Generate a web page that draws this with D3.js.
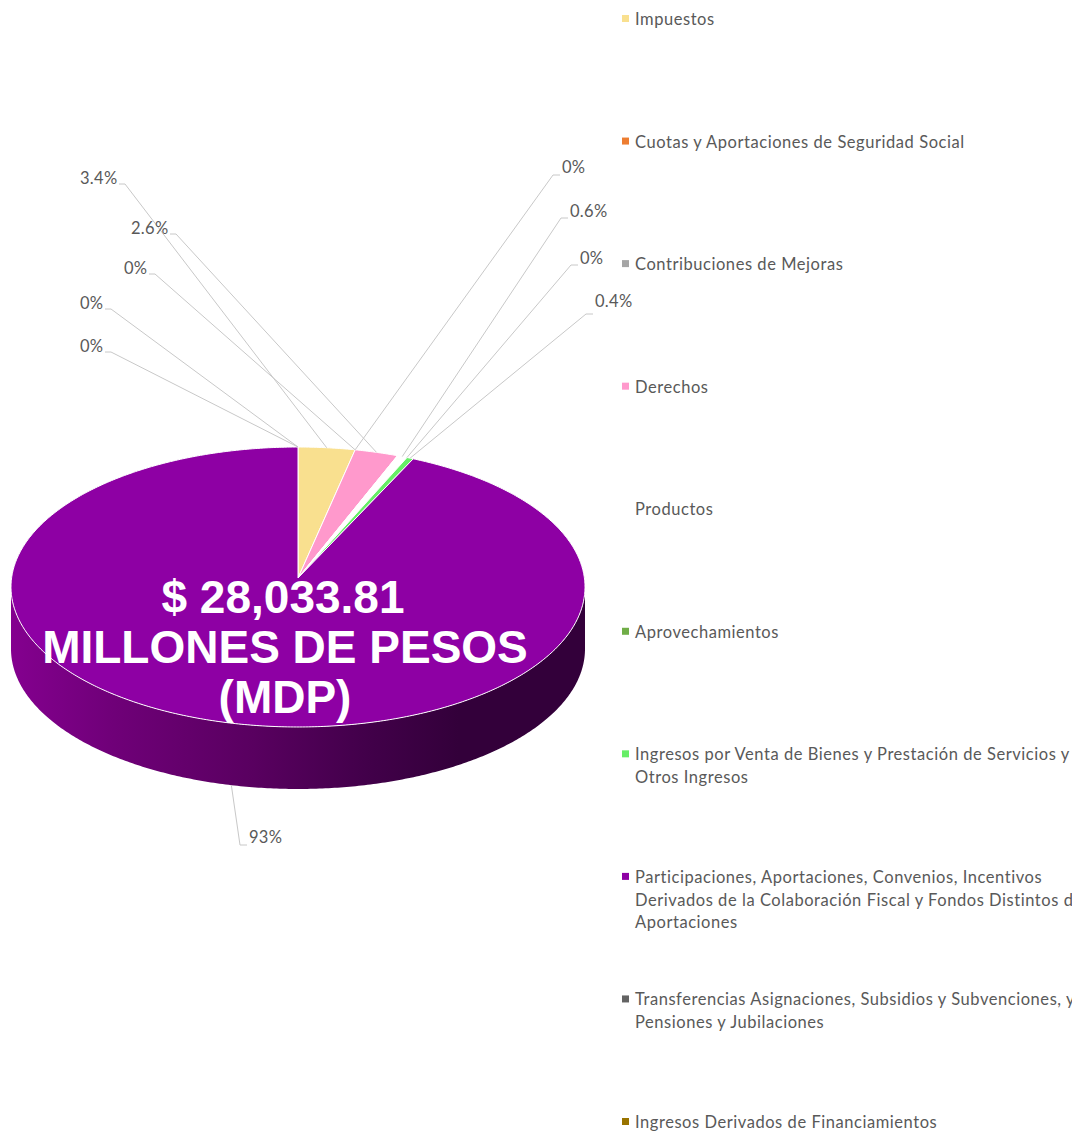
<!DOCTYPE html>
<html lang="es">
<head>
<meta charset="utf-8">
<script src="https://cdn.jsdelivr.net/npm/d3@7"></script>
<style>
  html, body { margin: 0; background: #fff; }
  svg { display: block; }
  .legend-text { font-family: Lato, sans-serif; font-size: 16.5px; fill: #595959; letter-spacing: 0.55px; }
  .pct-label { font-family: Lato, sans-serif; font-size: 16.5px; fill: #595959; letter-spacing: 0.3px; }
  .leader { fill: none; stroke: #c8c8c8; stroke-width: 1; }
  .total { font-family: "Liberation Sans", Arial, sans-serif; font-weight: 700; font-size: 46px; fill: #fff; text-anchor: middle; }
</style>
</head>
<body>
<svg id="chart" width="1072" height="1133"></svg>
<script>
// ── Data ─────────────────────────────────────────────────────────────────────
const categories = [
	'Impuestos',
	'Cuotas y Aportaciones de Seguridad Social',
	'Contribuciones de Mejoras',
	'Derechos',
	'Productos',
	'Aprovechamientos',
	'Ingresos por Venta de Bienes y Prestación de Servicios y\nOtros Ingresos',
	'Participaciones, Aportaciones, Convenios, Incentivos\nDerivados de la Colaboración Fiscal y Fondos Distintos de\nAportaciones',
	'Transferencias Asignaciones, Subsidios y Subvenciones, y\nPensiones y Jubilaciones',
	'Ingresos Derivados de Financiamientos'
];
const values = [3.4, 0, 0, 2.6, 0.6, 0, 0.4, 93, 0, 0];
const valueLabels = ['3.4%', '0%', '0%', '2.6%', '0.6%', '0%', '0.4%', '93%', '0%', '0%'];
const colors = ['#f9e08f', '#ed7d31', '#a5a5a5', '#ff99cc', '#ffffff', '#70ad47', '#66ee66', '#8e00a4', '#636363', '#997300'];
const totalLines = ['$ 28,033.81', 'MILLONES DE PESOS', '(MDP)'];

// ── Layout ───────────────────────────────────────────────────────────────────
// label box for each slice: text start x, baseline y, and which way the leader leaves
const labelLayout = [
	{ x: 80,  y: 184, side: 'left' },
	{ x: 562, y: 173, side: 'right' },
	{ x: 124, y: 274, side: 'left' },
	{ x: 131, y: 234, side: 'left' },
	{ x: 570, y: 217, side: 'right' },
	{ x: 580, y: 264, side: 'right' },
	{ x: 595, y: 307, side: 'right' },
	{ x: 249, y: 843, side: 'right' },
	{ x: 80,  y: 352, side: 'left' },
	{ x: 80,  y: 309, side: 'left' }
];
const leaderDrop = [0, 2, 0, 0, 1, 1, 7, 2, 0, 0];

const cx = 298, cy = 578, rx = 286.4, ry = 139.4, tilt = 0.0643, depth = 62;

const svg = d3.select('#chart');

// circle angle → screen, with the perspective of the tilted disc
function project(a, drop = 0) {
	const s = Math.sin(a), c = Math.cos(a), w = 1 + tilt * c;
	return [cx + rx * s / w, cy - ry * c / w + drop];
}

const pie = d3.pie().sort(null).value(d => d)(values);
const line = d3.line();

function arcPoints(a0, a1, drop = 0) {
	const n = Math.max(2, Math.ceil(Math.abs(a1 - a0) / 0.01));
	return d3.range(n + 1).map(i => project(a0 + (a1 - a0) * i / n, drop));
}

// ── Wall ─────────────────────────────────────────────────────────────────────
const defs = svg.append('defs');
const grad = defs.append('linearGradient')
	.attr('id', 'wall-grad')
	.attr('gradientUnits', 'userSpaceOnUse')
	.attr('x1', 11).attr('x2', 585).attr('y1', 0).attr('y2', 0);
[[0, '#84008f'], [0.18, '#6f0078'], [0.42, '#590060'], [0.62, '#42004a'], [0.78, '#33003a'], [1, '#33003a']]
	.forEach(([o, col]) => grad.append('stop').attr('offset', o).attr('stop-color', col));

const widest = Math.acos(-tilt);
const wallTop = arcPoints(widest, 2 * Math.PI - widest);
const wallBottom = arcPoints(2 * Math.PI - widest, widest, depth);
svg.append('path')
	.attr('d', line(wallTop.concat(wallBottom)) + 'Z')
	.attr('fill', 'url(#wall-grad)');

// ── Slices ───────────────────────────────────────────────────────────────────
svg.append('g').selectAll('path')
	.data(pie.filter(d => d.value > 0))
	.join('path')
	.attr('d', d => line([[cx, cy]].concat(arcPoints(d.startAngle, d.endAngle))) + 'Z')
	.attr('fill', d => colors[d.index])
	.attr('stroke', '#fff')
	.attr('stroke-width', 1)
	.attr('stroke-linejoin', 'round');

// ── Leaders + labels ─────────────────────────────────────────────────────────
const labelsG = svg.append('g');
labelsG.selectAll('path')
	.data(pie)
	.join('path')
	.attr('class', 'leader')
	.attr('d', d => {
		const mid = (d.startAngle + d.endAngle) / 2;
		const front = Math.cos(mid) < -tilt;
		const p = project(mid, front ? depth : 0);
		const l = labelLayout[d.index];
		const ly = l.y + leaderDrop[d.index];
		const wide = labelWidth(valueLabels[d.index]);
		const start = l.side === 'left' ? l.x + wide + 2 : l.x - 2;
		const elbow = l.side === 'left' ? start + 6 : start - 7;
		return line([[start, ly], [elbow, ly], p]);
	});

function labelWidth(t) {
	return t.length > 3 ? 37 : t === '93%' ? 33 : 23;
}

labelsG.selectAll('text')
	.data(pie)
	.join('text')
	.attr('class', 'pct-label')
	.attr('x', d => labelLayout[d.index].x)
	.attr('y', d => labelLayout[d.index].y)
	.text(d => valueLabels[d.index]);

// ── Total ────────────────────────────────────────────────────────────────────
const totalY = d3.scalePoint().domain(totalLines).range([613, 713]);
svg.append('g').selectAll('text')
	.data(totalLines)
	.join('text')
	.attr('class', 'total')
	.attr('x', (d, i) => i === 1 ? 285 : i === 0 ? 283 : 285)
	.attr('y', d => totalY(d))
	.text(d => d);

// ── Legend ───────────────────────────────────────────────────────────────────
const legendY = d3.scalePoint().domain(categories).range([25, 1128]);
const legend = svg.append('g').selectAll('g')
	.data(categories)
	.join('g')
	.attr('transform', d => `translate(622,${legendY(d)})`);

legend.append('rect')
	.attr('y', -10)
	.attr('width', 7)
	.attr('height', 7)
	.attr('fill', (d, i) => colors[i]);

legend.append('text')
	.attr('class', 'legend-text')
	.selectAll('tspan')
	.data(d => d.split('\n'))
	.join('tspan')
	.attr('x', 13)
	.attr('y', (d, i) => i * 22.8)
	.text(d => d);
</script>
</body>
</html>
